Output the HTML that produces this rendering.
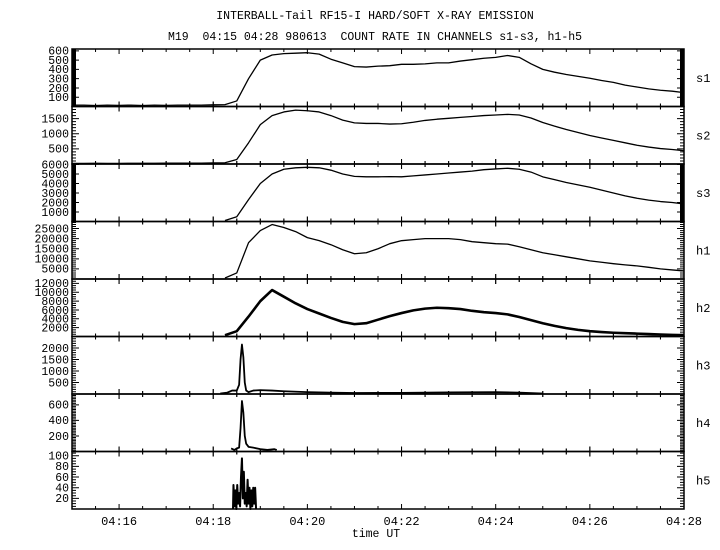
<!DOCTYPE html>
<html><head><meta charset="utf-8">
<style>
html,body{margin:0;padding:0;background:#fff;}
svg{display:block;}
text{font-family:"Liberation Mono","DejaVu Sans Mono",monospace;fill:#000;}
</style></head>
<body>
<svg id="chart" width="720" height="550" viewBox="0 0 720 550" xmlns="http://www.w3.org/2000/svg">
<text x="375" y="19" text-anchor="middle" font-size="11.5">INTERBALL-Tail RF15-I HARD/SOFT X-RAY EMISSION</text>
<text x="375" y="40" text-anchor="middle" font-size="11.5" xml:space="preserve">M19  04:15 04:28 980613  COUNT RATE IN CHANNELS s1-s3, h1-h5</text>
<text x="376" y="537" text-anchor="middle" font-size="11.5">time UT</text>
<g id="panels"></g>
</svg>
<script>
// ---- data ----
const panelNames = ["s1","s2","s3","h1","h2","h3","h4","h5"];
const yMax = [620,1900,6050,28500,13000,2500,740,108];
const yLabelStep = [100,500,1000,5000,2000,500,200,20];
const yMinorStep = [10,100,100,1000,500,100,20,5];
const yLabelMax = [600,1500,6000,25000,12000,2000,600,100];
const xTickLabels = ["04:16","04:18","04:20","04:22","04:24","04:26","04:28"];
const xTickMinutes = [16,18,20,22,24,26,28];

// regular time grid (minutes after 04:00), 0.25 min step
const gridTimes = [15,15.25,15.5,15.75,16,16.25,16.5,16.75,17,17.25,17.5,17.75,18,18.25,18.5,18.75,19,19.25,19.5,19.75,20,20.25,20.5,20.75,21,21.25,21.5,21.75,22,22.25,22.5,22.75,23,23.25,23.5,23.75,24,24.25,24.5,24.75,25,25.25,25.5,25.75,26,26.25,26.5,26.75,27,27.25,27.5,27.75,28];
const s1Values = [15,15,10,15,12,15,10,15,12,15,15,15,18,20,60,300,500,555,570,575,580,565,510,470,430,425,435,440,455,455,460,470,470,490,505,520,530,550,530,460,400,370,345,325,305,280,260,230,210,190,175,165,150];
const s2Values = [20,20,25,20,20,25,25,25,30,30,30,30,35,40,150,700,1300,1600,1720,1780,1760,1720,1600,1450,1360,1340,1340,1320,1330,1380,1440,1480,1510,1540,1570,1600,1620,1640,1620,1520,1370,1250,1140,1040,940,860,780,700,620,560,510,480,440];
const s3Values = [null,null,null,null,null,null,null,null,null,null,null,null,null,100,500,2300,4000,5000,5500,5650,5700,5650,5400,5000,4750,4700,4700,4720,4700,4800,4900,5000,5100,5200,5300,5450,5530,5600,5500,5200,4700,4400,4100,3850,3600,3300,3000,2700,2450,2250,2100,2000,1850];
const h1Values = [null,null,null,null,null,null,null,null,null,null,null,null,null,500,3000,18000,24000,27000,25500,23500,20500,19000,17000,14500,12500,13000,15000,17500,19000,19500,20000,20000,20000,19500,18500,18000,17500,17300,16000,14500,13000,12000,11000,10000,9000,8300,7600,7000,6500,5800,5000,4500,4000];
const h2Values = [null,null,null,null,null,null,null,null,null,null,null,null,null,300,1200,4500,8000,10500,9000,7500,6200,5200,4200,3300,2800,3000,3800,4600,5300,5900,6300,6500,6400,6200,5800,5500,5300,5000,4400,3700,3000,2400,1900,1500,1200,1000,850,750,650,550,450,350,300];
const h3Times = [18.15,18.3,18.4,18.5,18.55,18.58,18.61,18.64,18.67,18.7,18.75,18.85,19.0,19.25,19.5,20,20.5,21,22,23,24,24.5,25.0];
const h3Values = [20,60,150,150,400,1500,2150,1600,500,150,80,150,170,150,120,80,60,40,50,70,80,60,20];
const h4Times = [18.38,18.45,18.5,18.55,18.58,18.61,18.64,18.67,18.7,18.75,18.85,19.0,19.15,19.3,19.35];
const h4Values = [40,20,40,50,300,650,500,200,100,60,50,30,20,30,20];
const h5Times = [18.42,18.43,18.45,18.47,18.49,18.51,18.53,18.55,18.57,18.59,18.61,18.63,18.65,18.67,18.69,18.71,18.73,18.75,18.77,18.79,18.81,18.83,18.85,18.87,18.89,18.91];
const h5Values = [0,45,5,35,0,45,10,30,5,60,95,20,70,10,30,5,55,10,40,0,35,5,40,10,40,0];

// ---- layout ----
const X0 = 72, X1 = 684, T0 = 15, T1 = 28;
const TOP = 49, PH = 57.5;
const NS = "http://www.w3.org/2000/svg";
const g = document.getElementById("panels");
function xs(t){ return X0 + (t - T0) / (T1 - T0) * (X1 - X0); }
function ysFor(i){ const b = TOP + PH*(i+1), tp = TOP + PH*i; return v => b - v / yMax[i] * (b - tp); }
function mk(tag, attrs){ const e = document.createElementNS(NS, tag); for (const k in attrs) e.setAttribute(k, attrs[k]); return e; }

const series = [
  {times: gridTimes, vals: s1Values, w: 1.3},
  {times: gridTimes, vals: s2Values, w: 1.3},
  {times: gridTimes, vals: s3Values, w: 1.3},
  {times: gridTimes, vals: h1Values, w: 1.3},
  {times: gridTimes, vals: h2Values, w: 2.6},
  {times: h3Times, vals: h3Values, w: 1.8},
  {times: h4Times, vals: h4Values, w: 1.8},
  {times: h5Times, vals: h5Values, w: 2}
];

for (let i = 0; i < 8; i++) {
  const tp = TOP + PH*i, b = tp + PH, ys = ysFor(i);
  const pg = mk("g", {});
  
  
  g.appendChild(pg);
  const frame = mk("rect", {x: X0, y: tp, width: X1 - X0, height: PH, fill: "none", stroke: "#000", "stroke-width": 1.5});
  
  
  pg.appendChild(frame);
  let d = "";
  for (let v = yMinorStep[i]; v < yMax[i]; v += yMinorStep[i]) {
    const y = ys(v).toFixed(2);
    const major = Math.abs(v / yLabelStep[i] - Math.round(v / yLabelStep[i])) < 1e-6;
    const L = major ? 7 : 4;
    d += `M${X0} ${y}h${L}M${X1} ${y}h${-L}`;
  }
  const yt = mk("path", {d: d, stroke: "#000", "stroke-width": 1, fill: "none"});
  
  
  pg.appendChild(yt);
  for (let v = yLabelStep[i]; v <= yLabelMax[i]; v += yLabelStep[i]) {
    const tx = mk("text", {x: 69, y: (ys(v) + 3.8).toFixed(2), "text-anchor": "end", "font-size": 11.5});
    tx.textContent = String(v);
    
    
    pg.appendChild(tx);
  }
  let dx = "";
  for (let k = 0; k <= 26; k++) {
    const t = T0 + k * 0.5;
    if (t <= T0 || t >= T1) continue;
    const x = xs(t).toFixed(2);
    const major = xTickMinutes.indexOf(t) >= 0;
    const L = major ? 5 : 3;
    dx += `M${x} ${tp - (i === 0 ? 0 : L)}V${tp + L}M${x} ${b - L}V${b + (i === 7 ? 0 : L)}`;
  }
  const xt = mk("path", {d: dx, stroke: "#000", "stroke-width": 1, fill: "none"});
  
  
  pg.appendChild(xt);
  const cl = mk("text", {x: 696, y: (tp + PH/2 + 4).toFixed(2), "font-size": 12});
  cl.textContent = panelNames[i];
  
  
  pg.appendChild(cl);
  const s = series[i];
  let p = "", started = false;
  for (let j = 0; j < s.times.length; j++) {
    const v = s.vals[j];
    if (v === null) { started = false; continue; }
    const x = xs(s.times[j]).toFixed(2), y = ys(v).toFixed(2);
    p += (started ? `L` : `M`) + `${x} ${y}`;
    started = true;
  }
  const line = mk("path", {d: p, stroke: "#000", "stroke-width": s.w, fill: "none", "stroke-linejoin": "round"});
  
  
  pg.appendChild(line);
}
for (let k = 0; k < xTickLabels.length; k++) {
  const tx = mk("text", {x: xs(xTickMinutes[k]).toFixed(2), y: 525, "text-anchor": "middle", "font-size": 12});
  tx.textContent = xTickLabels[k];
  
  
  g.appendChild(tx);
}
</script>
</body></html>
